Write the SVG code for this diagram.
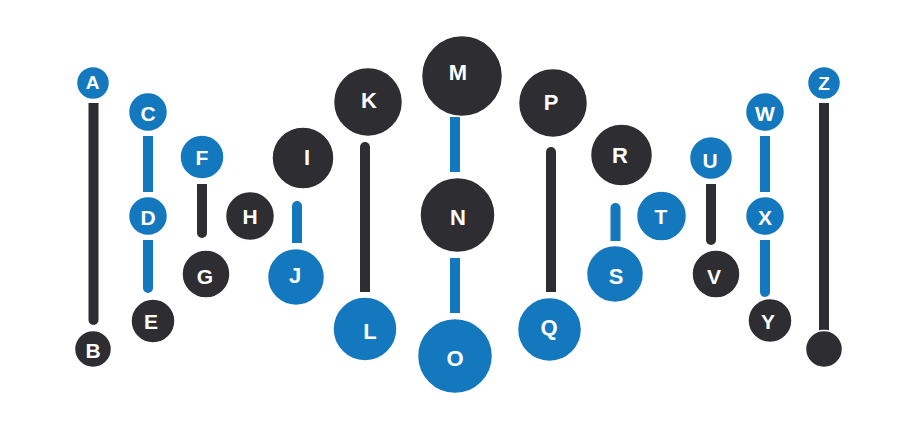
<svg xmlns="http://www.w3.org/2000/svg" width="914" height="422" viewBox="0 0 914 422">
<style>
.b{fill:#1478BE}
.d{fill:#2D2D32}
circle{stroke:#ffffff;stroke-width:1.5}
text{font-family:"Liberation Sans",Arial,sans-serif;font-weight:bold;font-size:21px;fill:#ffffff;text-anchor:middle}
.s{font-size:19px}
.l{font-size:22px}
</style>
<rect width="914" height="422" fill="#ffffff"/>
<g id="connectors">
<path class="d" d="M88.5 103 H98.5 V320 A5 5 0 0 1 88.5 320 Z"/>
<path class="b" d="M143 136 H153 V192 H143 Z"/>
<path class="b" d="M143 240 H153 V288 A5 5 0 0 1 143 288 Z"/>
<path class="d" d="M197 184 H207 V233 A5 5 0 0 1 197 233 Z"/>
<path class="b" d="M292 243 H302 V206 A5 5 0 0 0 292 206 Z"/>
<path class="d" d="M360 292 H370 V147 A5 5 0 0 0 360 147 Z"/>
<path class="b" d="M450 117 H460 V172 H450 Z"/>
<path class="b" d="M450 258 H460 V313 H450 Z"/>
<path class="d" d="M546 292 H556 V152 A5 5 0 0 0 546 152 Z"/>
<path class="b" d="M610.5 241 H620.5 V208 A5 5 0 0 0 610.5 208 Z"/>
<path class="d" d="M706 184 H716 V240 A5 5 0 0 1 706 240 Z"/>
<path class="b" d="M760 136 H770 V192 H760 Z"/>
<path class="b" d="M760 240 H770 V292 A5 5 0 0 1 760 292 Z"/>
<path class="d" d="M819 103 H829 V340 H819 Z"/>
</g>
<g id="A"><circle class="b" cx="93" cy="83" r="16.5"/><text class="s" x="92.5" y="89">A</text></g>
<g id="B"><circle class="d" cx="93" cy="349" r="18.5"/><text x="93" y="358">B</text></g>
<g id="C"><circle class="b" cx="148" cy="112" r="19.5"/><text x="148" y="120.5">C</text></g>
<g id="D"><circle class="b" cx="148" cy="216" r="19.5"/><text x="148" y="224.5">D</text></g>
<g id="E"><circle class="d" cx="153" cy="321" r="22"/><text x="151" y="328.5">E</text></g>
<g id="F"><circle class="b" cx="202" cy="157" r="22"/><text x="202" y="164.5">F</text></g>
<g id="G"><circle class="d" cx="206" cy="274" r="24"/><text x="205" y="283.5">G</text></g>
<g id="H"><circle class="d" cx="250" cy="216" r="24.5"/><text x="250" y="223.5">H</text></g>
<g id="I"><circle class="d" cx="303" cy="158" r="31"/><text class="l" x="307" y="165">I</text></g>
<g id="J"><circle class="b" cx="296" cy="277" r="28.5"/><text class="l" x="295" y="283">J</text></g>
<g id="K"><circle class="d" cx="368" cy="102" r="34.5"/><text class="l" x="369" y="108">K</text></g>
<g id="L"><circle class="b" cx="365" cy="329" r="32"/><text class="l" x="370" y="339">L</text></g>
<g id="M"><circle class="d" cx="462" cy="76" r="40.5"/><text class="l" x="458" y="80">M</text></g>
<g id="N"><circle class="d" cx="457.5" cy="215" r="37.5"/><text class="l" x="458" y="225">N</text></g>
<g id="O"><circle class="b" cx="455" cy="356" r="37.5"/><text class="l" x="455" y="366">O</text></g>
<g id="P"><circle class="d" cx="553" cy="103" r="34.5"/><text class="l" x="551" y="110">P</text></g>
<g id="Q"><circle class="b" cx="549.5" cy="329.5" r="32"/><text class="l" x="549" y="335">Q</text></g>
<g id="R"><circle class="d" cx="621.5" cy="155" r="31"/><text class="l" x="620" y="163">R</text></g>
<g id="S"><circle class="b" cx="615" cy="274" r="28.5"/><text class="l" x="616" y="284">S</text></g>
<g id="T"><circle class="b" cx="661.5" cy="216" r="25"/><text x="661" y="223.5">T</text></g>
<g id="U"><circle class="b" cx="711" cy="158" r="21.5"/><text x="710" y="167.5">U</text></g>
<g id="V"><circle class="d" cx="716" cy="274" r="24"/><text x="714" y="283.5">V</text></g>
<g id="W"><circle class="b" cx="765" cy="112" r="19.5"/><text x="765" y="120.5">W</text></g>
<g id="X"><circle class="b" cx="765" cy="216" r="19.5"/><text x="765" y="224.5">X</text></g>
<g id="Y"><circle class="d" cx="770" cy="320.5" r="22"/><text x="768" y="328.5">Y</text></g>
<g id="Z"><circle class="b" cx="824" cy="83" r="16.5"/><text class="s" x="824" y="89.5">Z</text></g>
<g id="end"><circle class="d" cx="824" cy="349" r="18.5"/></g>
</svg>
